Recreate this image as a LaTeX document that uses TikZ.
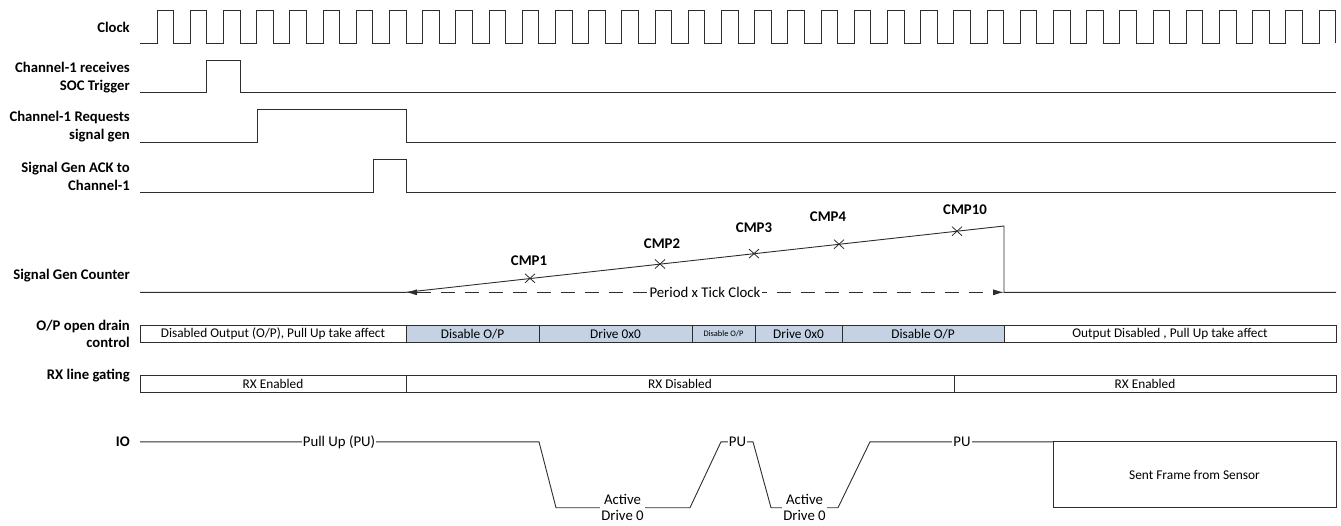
\documentclass[tikz,border=0pt]{standalone}
\usepackage{fontspec}
\setmainfont{Carlito}
\usetikzlibrary{arrows.meta}
\definecolor{barblue}{RGB}{197,210,227}
\definecolor{ln}{RGB}{45,45,45}
\tikzset{
  wave/.style={draw=ln, line width=0.9pt},
  lbl/.style={font=\bfseries\fontsize{14.7}{17.5}\selectfont, align=right, anchor=east, inner sep=0pt},
  cmplbl/.style={font=\bfseries\fontsize{14.8}{17}\selectfont, inner sep=0pt},
  seg/.style={draw=ln, line width=0.9pt, anchor=west, inner sep=0pt, outer sep=0pt, minimum height=16.4pt, font=\fontsize{13.3}{15}\selectfont},
  bseg/.style={seg, fill=barblue},
  iotxt/.style={fill=white, inner sep=1pt, font=\fontsize{14.8}{16}\selectfont, align=center},
  crossmark/.style={draw=ln, line width=0.8pt},
  period/.style={draw=ln, line width=0.9pt, dash pattern=on 14pt off 10pt, {Latex[length=11pt,width=6pt]}-{Latex[length=11pt,width=6pt]}}
}
\begin{document}
\begin{tikzpicture}[x=1pt,y=-1pt]
\useasboundingbox (0,0) rectangle (1341,525);

% ---- labels ----
\node[lbl] (lclk) at (130,27) {Clock};
\node[lbl] (lsoc) at (130,77.5) {Channel-1 receives\\SOC Trigger};
\node[lbl] (lreq) at (130,126.5) {Channel-1 Requests\\signal gen};
\node[lbl] (lack) at (130,176.5) {Signal Gen ACK to\\Channel-1};
\node[lbl] (lcnt) at (130,275.5) {Signal Gen Counter};
\node[lbl] (lop) at (130,334) {O/P open drain\\control};
\node[lbl] (lrx) at (130,375.5) {RX line gating};
\node[lbl] (lio) at (130,441.5) {IO};

% ---- clock ----
\draw[wave] (140,43) foreach \k in {0,...,35} {
  -- ({157+33.2*\k},43) -- ({157+33.2*\k},10) -- ({173.6+33.2*\k},10) -- ({173.6+33.2*\k},43) };

% ---- SOC trigger ----
\draw[wave] (140,92.7) -- (206,92.7) -- (206,60) -- (240,60) -- (240,92.7) -- (1336,92.7);
% ---- request ----
\draw[wave] (140,142.7) -- (257,142.7) -- (257,109) -- (406,109) -- (406,142.7) -- (1336,142.7);
% ---- ACK ----
\draw[wave] (140,192.5) -- (373,192.5) -- (373,159) -- (406,159) -- (406,192.5) -- (1336,192.5);

% ---- counter ----
\coordinate (c0) at (406,292.3);
\coordinate (ctop) at (1004,226);
\coordinate (cbot) at (1004,292.3);
\coordinate (cend) at (1336,292.3);
\coordinate (cstart) at (140,292.3);
\draw[wave] (cstart) -- (c0) -- (ctop) -- (cbot) -- (cend);
\draw[period] (c0) -- (cbot) node[midway, fill=white, inner sep=1.5pt, font=\fontsize{14.8}{16}\selectfont] (per) {Period x Tick Clock};

\foreach \x/\y in {530/278.3, 660/264.0, 754/253.6, 839/244.2, 957/231.2}
  \draw[crossmark] ({\x-5},{\y-4.5}) -- ({\x+5},{\y+4.5}) ({\x-5},{\y+4.5}) -- ({\x+5},{\y-4.5});
\node[cmplbl] (cmp1) at (529,261) {CMP1};
\node[cmplbl] (cmp2) at (662,243.5) {CMP2};
\node[cmplbl] (cmp3) at (754,228) {CMP3};
\node[cmplbl] (cmp4) at (828,217) {CMP4};
\node[cmplbl] (cmp10) at (965,210) {CMP10};

% ---- O/P open drain control ----
\node[seg, minimum width=266pt] (op1) at (140,334.1) {Disabled Output (O/P), Pull Up take affect};
\node[bseg, minimum width=133pt] (op2) at (op1.east) {Disable O/P};
\node[bseg, minimum width=153pt] (op3) at (op2.east) {Drive 0x0};
\node[bseg, minimum width=63pt, font=\fontsize{8.4}{10}\selectfont] (op4) at (op3.east) {Disable O/P};
\node[bseg, minimum width=87pt] (op5) at (op4.east) {Drive 0x0};
\node[bseg, minimum width=162pt] (op6) at (op5.east) {Disable O/P};
\node[seg, minimum width=332pt] (op7) at (op6.east) {Output Disabled , Pull Up take affect};

% ---- RX line gating ----
\node[seg, minimum width=266pt, minimum height=16.6pt] (rx1) at (140,384) {RX Enabled};
\node[seg, minimum width=548pt, minimum height=16.6pt] (rx2) at (rx1.east) {RX Disabled};
\node[seg, minimum width=382pt, minimum height=16.6pt] (rx3) at (rx2.east) {RX Enabled};

% ---- IO ----
\node[seg, anchor=north west, minimum width=283pt, minimum height=66pt, font=\fontsize{13.4}{15}\selectfont] (frame) at (1053,441.8) {Sent Frame from Sensor};
\draw[wave] (140,441.8) -- (539,441.8) -- (556,507.7) -- (690,507.7) -- (721,441.8) -- (753,441.8)
  -- (771,507.7) -- (838,507.7) -- (870,441.8) -- (frame.north west);
\node[iotxt] (pu0) at (339,441.8) {Pull Up (PU)};
\node[iotxt] (pu1) at (737.5,441.8) {PU};
\node[iotxt] (pu2) at (962,441.8) {PU};
\node[iotxt] (ad1) at (622.5,507.7) {Active\\Drive 0};
\node[iotxt] (ad2) at (804.5,507.7) {Active\\Drive 0};
\end{tikzpicture}
\end{document}
